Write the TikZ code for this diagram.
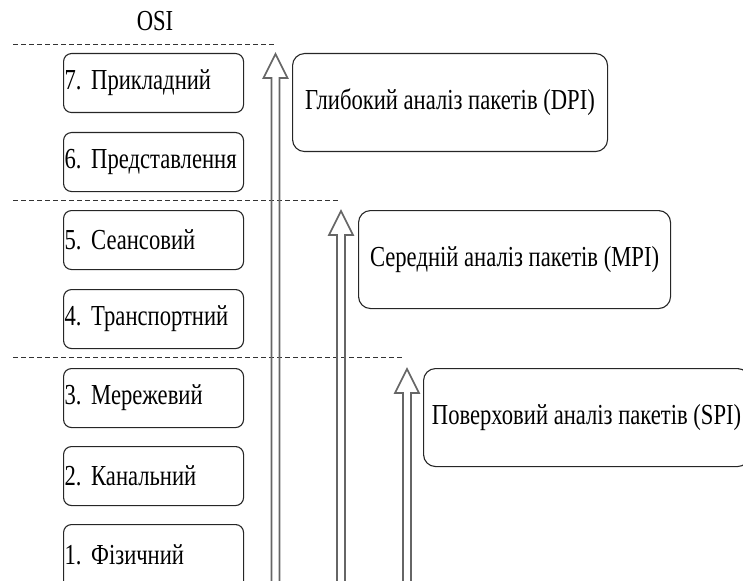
\documentclass[tikz,border=0pt]{standalone}
\usepackage{fontspec}
\setmainfont{Liberation Serif}[FakeStretch=0.78]
\usetikzlibrary{calc}
\frenchspacing
\begin{document}
\begin{tikzpicture}[x=1pt,y=-1pt,
  txt/.style={font=\fontsize{29}{32}\selectfont\frenchspacing},
  lay/.style={txt, draw=black!85, line width=1.1pt, rounded corners=8pt, minimum width=180pt, minimum height=59pt, inner xsep=1pt, inner ysep=1.5pt, align=left, text width=178pt, anchor=north west},
  ana/.style={txt, draw=black!85, line width=1.1pt, rounded corners=12pt, minimum height=98pt, inner sep=2pt, anchor=north west},
  sep/.style={black!80, line width=0.9pt, dash pattern=on 4.5pt off 3.5pt},
  bigarrow/.style={draw=black!60, line width=1.6pt, line join=miter}
]
\useasboundingbox (0,0) rectangle (743,580);

\node[txt] (osi) at (155,21) {OSI};

\node[lay] (l7) at (63,53)  {\mbox{7. Прикладний}};
\node[lay] (l6) at (63,132) {\mbox{6. Представлення}};
\node[lay] (l5) at (63,210) {\mbox{5. Сеансовий}};
\node[lay] (l4) at (63,289) {\mbox{4. Транспортний}};
\node[lay] (l3) at (63,368) {\mbox{3. Мережевий}};
\node[lay] (l2) at (63,446) {\mbox{2. Канальний}};
\node[lay, minimum height=66pt] (l1) at (63,524) {\raisebox{5pt}{1. Фізичний}};

\node[ana, minimum width=315pt] (dpi) at (292,53)  {Глибокий аналіз пакетів (DPI)};
\node[ana, minimum width=312pt] (mpi) at (358,210) {Середній аналіз пакетів (MPI)};
\node[ana, minimum width=326pt] (spi) at (423,368) {Поверховий аналіз пакетів (SPI)};

\coordinate (s1) at (13,44);  \coordinate (e1) at (275,44);
\coordinate (s2) at (13,200); \coordinate (e2) at (340,200);
\coordinate (s3) at (13,357); \coordinate (e3) at (402,357);
\draw[sep] (s1) -- (e1);
\draw[sep] (s2) -- (e2);
\draw[sep] (s3) -- (e3);

\coordinate (b1) at (275.5,590); \coordinate (t1) at (275.5,54);
\coordinate (b2) at (341,590);   \coordinate (t2) at (341,211);
\coordinate (b3) at (407,590);   \coordinate (t3) at (407,369);
\foreach \b/\t in {b1/t1,b2/t2,b3/t3}{
  \draw[bigarrow] ($(\b)+(-4,0)$) -- ($(\t)+(-4,24)$) -- ++(-8,0) -- (\t) -- ($(\t)+(12,24)$) -- ++(-8,0) -- ($(\b)+(4,0)$);
}
\end{tikzpicture}
\end{document}
